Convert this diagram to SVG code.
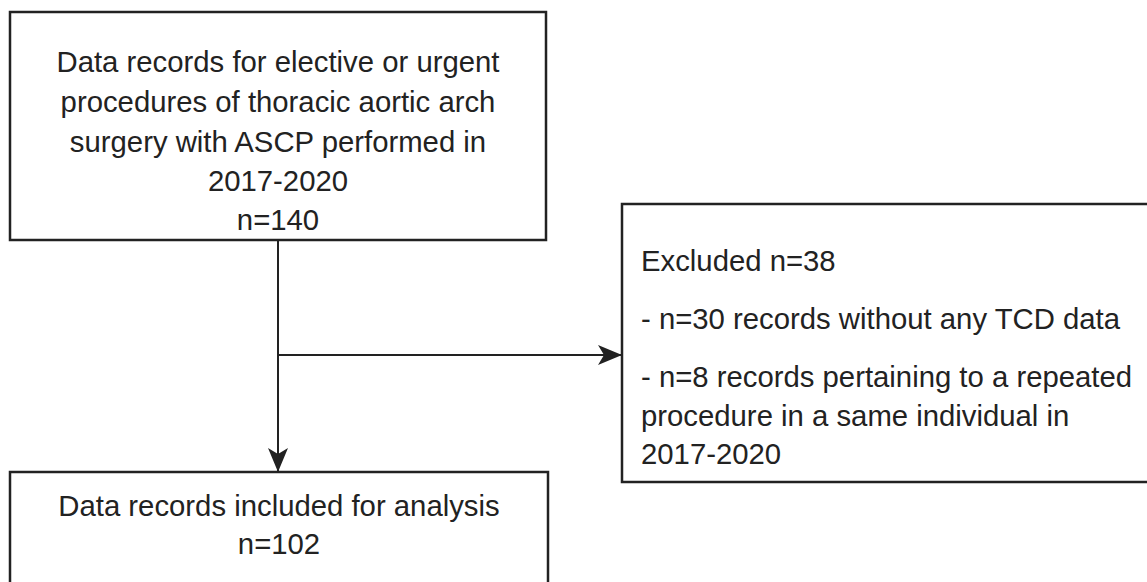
<svg xmlns="http://www.w3.org/2000/svg" width="1147" height="582" viewBox="0 0 1147 582">
  <style>
    .box { fill: #ffffff; stroke: #222222; stroke-width: 2.5; }
    .t { font-family: "Liberation Sans", Arial, sans-serif; font-size: 29.3px; fill: #222222; }
    .c { text-anchor: middle; }
    .conn { fill: none; stroke: #222222; stroke-width: 2; }
  </style>
  <defs>
    <marker id="arrow" viewBox="0 0 24 20" refX="24" refY="10" markerWidth="24" markerHeight="20" markerUnits="userSpaceOnUse" orient="auto">
      <path d="M0,0 L24,10 L0,20 L6,10 Z" fill="#222222"/>
    </marker>
  </defs>
  <rect width="1147" height="582" fill="#ffffff"/>

  <g id="connectors">
    <line class="conn" x1="278" y1="241" x2="278" y2="472" marker-end="url(#arrow)"/>
    <line class="conn" x1="278" y1="355" x2="622" y2="355" marker-end="url(#arrow)"/>
  </g>

  <g id="node-records">
    <rect class="box" x="10" y="12" width="536" height="228"/>
    <text class="t c" x="278" y="72">Data records for elective or urgent</text>
    <text class="t c" x="278" y="112">procedures of thoracic aortic arch</text>
    <text class="t c" x="278" y="152">surgery with ASCP performed in</text>
    <text class="t c" x="278" y="191">2017-2020</text>
    <text class="t c" x="278" y="230">n=140</text>
  </g>

  <g id="node-excluded">
    <rect class="box" x="622" y="204" width="540" height="278"/>
    <text class="t" x="641" y="271">Excluded n=38</text>
    <text class="t" x="641" y="329">- n=30 records without any TCD data</text>
    <text class="t" x="641" y="387">- n=8 records pertaining to a repeated</text>
    <text class="t" x="641" y="426">procedure in a same individual in</text>
    <text class="t" x="641" y="464">2017-2020</text>
  </g>

  <g id="node-included">
    <rect class="box" x="10" y="472" width="538" height="130"/>
    <text class="t c" x="279" y="516">Data records included for analysis</text>
    <text class="t c" x="279" y="554">n=102</text>
  </g>
</svg>
